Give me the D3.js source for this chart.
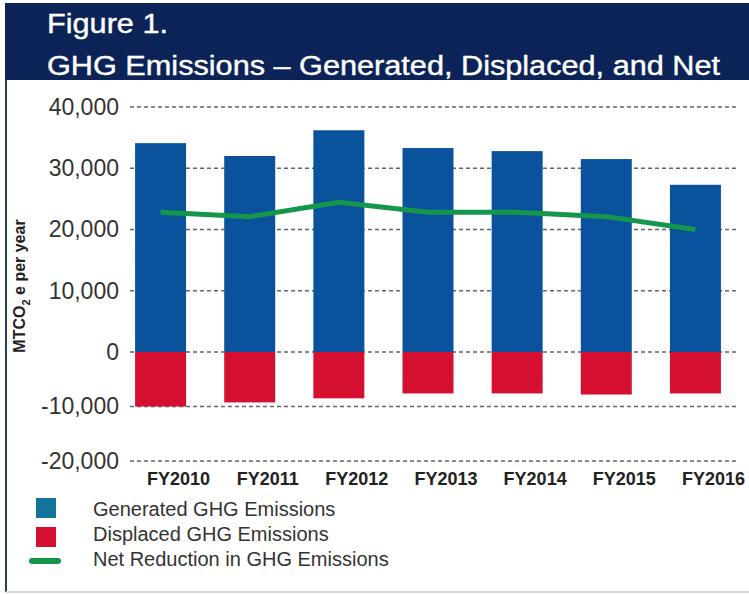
<!DOCTYPE html>
<html>
<head>
<meta charset="utf-8">
<script src="https://cdn.jsdelivr.net/npm/d3@7"></script>
<style>
  body { margin: 0; background: #fff; }
  svg { display: block; font-family: "Liberation Sans", Arial, sans-serif; }
</style>
</head>
<body>
<div id="chart"></div>
<script>
// data
var years = ["FY2010", "FY2011", "FY2012", "FY2013", "FY2014", "FY2015", "FY2016"];
var generated = [34100, 32000, 36200, 33300, 32800, 31500, 27300];
var displaced = [-10000, -9250, -8500, -7600, -7600, -7800, -7600];
var netReduction = [22800, 22100, 24450, 22800, 22800, 22100, 20000];
var yTicks = [-20000, -10000, 0, 10000, 20000, 30000, 40000];
var legendLabels = ["Generated GHG Emissions", "Displaced GHG Emissions", "Net Reduction in GHG Emissions"];

var W = 749, H = 594;
var navy = "#0b2357", blue = "#0a529c", red = "#d50f2f", green = "#14974a";

var svg = d3.select("#chart").append("svg")
    .attr("width", W)
    .attr("height", H);

// header band
svg.append("rect")
    .attr("x", 5).attr("y", 3)
    .attr("width", W - 5).attr("height", 77)
    .style("fill", navy);

svg.append("text")
    .attr("x", 47).attr("y", 33)
    .attr("textLength", 121).attr("lengthAdjust", "spacingAndGlyphs")
    .style("font-size", "27px").style("fill", "#fff")
    .style("stroke", "#fff").style("stroke-width", 0.4)
    .text("Figure 1.");

svg.append("text")
    .attr("x", 47).attr("y", 75)
    .attr("textLength", 673).attr("lengthAdjust", "spacingAndGlyphs")
    .style("font-size", "27px").style("fill", "#fff")
    .style("stroke", "#fff").style("stroke-width", 0.4)
    .text("GHG Emissions \u2013 Generated, Displaced, and Net");

// frame lines
svg.append("line")
    .attr("x1", 6).attr("x2", 6).attr("y1", 80).attr("y2", 592)
    .style("stroke", "#23405f").style("stroke-width", 2);
svg.append("line")
    .attr("x1", 6).attr("x2", W).attr("y1", 592).attr("y2", 592)
    .style("stroke", "#d8d8d8").style("stroke-width", 2);

// scales (the source figure squeezes the negative half of the axis)
var x = d3.scaleBand()
    .domain(years)
    .range([116, 740])
    .paddingInner(0.428)
    .paddingOuter(0.214);

var y = d3.scaleLinear()
    .domain([-20000, 0, 40000])
    .range([461, 352, 107]);

// dashed grid
svg.append("g")
    .selectAll("line").data(yTicks)
    .enter().append("line")
    .attr("x1", 130).attr("x2", 739)
    .attr("y1", function (d) { return y(d); })
    .attr("y2", function (d) { return y(d); })
    .style("stroke", "#666")
    .style("stroke-width", 1.5)
    .style("stroke-dasharray", "4,3");

// y axis labels, plain hyphen for negatives like the source
var fmt = d3.formatLocale({decimal: ".", thousands: ",", grouping: [3], currency: ["", ""], minus: "-"}).format(",");
var yAxis = svg.append("g")
    .attr("transform", "translate(126,0)")
    .call(d3.axisLeft(y).tickValues(yTicks).tickSize(0).tickPadding(7).tickFormat(fmt));
yAxis.select(".domain").remove();
yAxis.selectAll("text")
    .style("font-size", "23px")
    .style("fill", "#333")
    .style("font-family", "'Liberation Sans', Arial, sans-serif");

// y title
var yt = svg.append("text")
    .attr("text-anchor", "middle")
    .attr("transform", "translate(25,286)rotate(-90)")
    .style("font-size", "16px").style("font-weight", "bold").style("fill", "#222");
yt.append("tspan").text("MTCO");
yt.append("tspan").attr("dy", 5).style("font-size", "11px").text("2");
yt.append("tspan").attr("dy", -5).text(" e per year");

// generated bars
svg.append("g").selectAll("rect").data(generated)
    .enter().append("rect")
    .attr("x", function (d, i) { return x(years[i]); })
    .attr("width", x.bandwidth())
    .attr("y", function (d) { return y(d); })
    .attr("height", function (d) { return y(0) - y(d); })
    .style("fill", blue);

// displaced bars
svg.append("g").selectAll("rect").data(displaced)
    .enter().append("rect")
    .attr("x", function (d, i) { return x(years[i]); })
    .attr("width", x.bandwidth())
    .attr("y", y(0))
    .attr("height", function (d) { return y(d) - y(0); })
    .style("fill", red);

// net line
var valueline = d3.line()
    .x(function (d, i) { return x(years[i]) + x.bandwidth() / 2; })
    .y(function (d) { return y(d); });

svg.append("path")
    .datum(netReduction)
    .attr("d", valueline)
    .style("fill", "none")
    .style("stroke", green)
    .style("stroke-width", 5);

// x labels (sit a little right of the bars in the source)
svg.append("g").selectAll("text").data(years)
    .enter().append("text")
    .attr("x", function (d) { return x(d) + x.bandwidth() / 2 + 18; })
    .attr("y", 485)
    .attr("text-anchor", "middle")
    .style("font-size", "18px").style("font-weight", "bold").style("fill", "#222")
    .text(function (d) { return d; });

// legend
var lg = svg.append("g");
lg.append("rect").attr("x", 36).attr("y", 498).attr("width", 20).attr("height", 20).style("fill", "#13739a");
lg.append("rect").attr("x", 36).attr("y", 527).attr("width", 20).attr("height", 20).style("fill", red);
lg.append("line").attr("x1", 32).attr("x2", 58).attr("y1", 561).attr("y2", 561)
    .style("stroke", green).style("stroke-width", 6).style("stroke-linecap", "round");

lg.selectAll("text").data(legendLabels)
    .enter().append("text")
    .attr("x", 93)
    .attr("y", function (d, i) { return 516 + i * 25; })
    .style("font-size", "20px").style("fill", "#333")
    .text(function (d) { return d; });
</script>
</body>
</html>
